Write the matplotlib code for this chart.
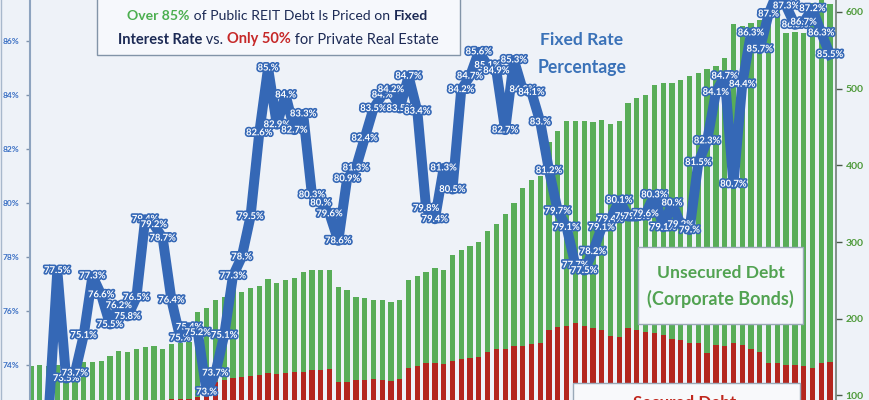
import matplotlib
matplotlib.use("Agg")
import matplotlib.pyplot as plt
import matplotlib.patheffects as pe
from matplotlib.patches import Rectangle
from matplotlib.lines import Line2D
from matplotlib.ticker import FuncFormatter
from matplotlib import font_manager
import numpy as np

# fixed-rate share of public REIT debt (%), one point per quarter
fixed_pct = [71.4, 71.7, 72.1, 77.5, 73.5, 73.7, 75.1, 77.3, 76.6, 75.5,
             76.2, 75.8, 76.5, 79.4, 79.2, 78.7, 76.4, 75.0, 75.4, 75.2,
             73.0, 73.7, 75.1, 77.3, 78.0, 79.5, 82.6, 85.0, 82.9, 84.0,
             82.7, 83.3, 80.3, 80.0, 79.6, 78.6, 80.9, 81.3, 82.4, 83.5,
             84.0, 84.2, 83.5, 84.7, 83.4, 79.8, 79.4, 81.3, 80.5, 84.2,
             84.7, 85.6, 85.1, 84.9, 82.7, 85.3, 84.2, 84.1, 83.0, 81.2,
             79.7, 79.1, 77.7, 77.5, 78.2, 79.1, 79.4, 80.1, 79.5, 79.5,
             79.6, 80.3, 79.1, 80.0, 79.2, 79.0, 81.5, 82.3, 84.1, 84.7,
             80.7, 84.4, 86.3, 85.7, 87.0, 87.8, 87.3, 86.6, 86.7, 87.2,
             86.3, 85.5]

# total debt ($bn) = secured + unsecured
total_debt = [138.5, 139.5, 139, 140, 140.5, 141, 143, 144, 145, 152,
              158, 157, 161, 163, 164, 161, 167, 168, 170, 209,
              214, 224, 228, 240, 235, 240, 243, 252, 247, 250,
              253, 261, 264, 264, 264, 241, 237, 229, 227, 225,
              225, 222, 225, 251, 256, 261, 266, 263, 283, 290,
              295, 300, 315, 324, 337, 351, 370, 381, 386, 431,
              445, 458, 458, 458, 456, 459, 454, 458, 481, 488,
              492, 505, 508, 507, 511, 517, 521, 526, 529, 540,
              584, 582, 586, 590, 600, 620, 573, 574, 572, 612,
              615, 611]

secured_debt = [86, 86, 87, 87, 88, 88, 89, 89, 90, 90,
                91, 91, 92, 92, 93, 93, 95, 96, 96, 98,
                101, 118, 120, 123, 124, 125, 127, 129.5, 128, 129,
                130, 131, 133, 133, 134, 117, 118, 120, 120, 121,
                120, 118.5, 121, 136, 138, 142, 142, 141, 145, 148,
                149, 150, 157, 160, 161, 164, 165, 167, 169, 185,
                189, 191, 194, 191, 188, 185, 177, 176, 188, 186,
                183, 182, 179, 173, 172, 168, 169, 155, 166, 165,
                168, 166, 160, 157, 142, 142, 140, 140, 138.5, 135.5,
                142, 143]

left_ticks = [74, 76, 78, 80, 82, 84, 86]
right_ticks = [100, 200, 300, 400, 500, 600]

W, H = 870, 400
bg = '#eef2f8'
blue = '#3568b6'
green_bar = '#58ad58'
red_bar = '#b3261e'
navy = '#1c2a55'

installed = {f.name for f in font_manager.fontManager.ttflist}
narrow = 'Liberation Sans Narrow' if 'Liberation Sans Narrow' in installed else 'Lato'

quarters = np.arange(len(fixed_pct))
unsecured = np.array(total_debt) - np.array(secured_debt)

fig = plt.figure(figsize=(W / 100, H / 100), dpi=100, facecolor=bg)
ax_b = fig.add_axes([29.5 / W, 0, (836 - 29.5) / W, 1])
ax_b.set_facecolor(bg)
ax_l = ax_b.twinx()

ax_b.bar(quarters, secured_debt, width=0.6, color=red_bar, zorder=2)
ax_b.bar(quarters, unsecured, width=0.6, bottom=secured_debt, color=green_bar, zorder=2)
ax_b.set_xlim(-0.17, 91.68)
ax_b.set_ylim(94.1, 615.6)
ax_b.set_xticks([])
ax_b.yaxis.tick_right()
ax_b.set_yticks(right_ticks)
ax_b.tick_params(axis='y', direction='out', length=4, width=1, color='#4a5a4a',
                 labelcolor='#4e9a3a', labelsize=7.5, pad=3)
for t in ax_b.get_yticklabels():
    t.set_fontweight('bold')
    t.set_family('Lato')

ax_l.plot(quarters, fixed_pct, color=blue, lw=7.2, solid_joinstyle='round', zorder=3)
ax_l.set_ylim(72.704, 87.52)


def pct_label(v):
    s = f"{v:.1f}"
    if s.endswith(".0"):
        s = s[:-1]
    return s + "%"


ymin = ax_l.get_ylim()[0]
for q, v in zip(quarters, fixed_pct):
    if v < ymin:
        continue  # point sits below the visible window
    ax_l.text(q, v, pct_label(v), ha='center', va='center', fontsize=6.8,
              color='white', fontweight='bold', family='Lato', zorder=4,
              path_effects=[pe.withStroke(linewidth=2.4, foreground=blue)])

ax_l.yaxis.tick_left()
ax_l.set_yticks(left_ticks)
ax_l.yaxis.set_major_formatter(FuncFormatter(lambda v, p: f"{v:.0f}%"))
ax_l.tick_params(axis='y', direction='out', length=3, width=1, color='#7f93ad',
                 labelcolor='#3a6fc4', labelsize=6, pad=4)
for t in ax_l.get_yticklabels():
    t.set_fontweight('bold')
    t.set_family('Lato')

for a in (ax_b, ax_l):
    for s in ('top', 'bottom', 'left', 'right'):
        a.spines[s].set_visible(False)
ax_l.spines['left'].set_visible(True)
ax_l.spines['left'].set_color('#8da3bf')
ax_l.spines['left'].set_linewidth(1.5)
ax_b.spines['right'].set_visible(True)
ax_b.spines['right'].set_color('#6f7f75')
ax_b.spines['right'].set_linewidth(1.2)

# boxes
fig.add_artist(Line2D([1.5 / W, 1.5 / W], [0, 1], color='#a8b8cc', lw=1))
fig.add_artist(Rectangle((97 / W, 1 - 55 / H), 363 / W, 0.2, transform=fig.transFigure,
                         facecolor='#f6f8fc', edgecolor='#8294a8', lw=1))
fig.add_artist(Rectangle((638 / W, 1 - 324 / H), 165 / W, 77 / H, transform=fig.transFigure,
                         facecolor='#f4f7fb', edgecolor='#9aa9b8', lw=1))
fig.add_artist(Rectangle((573 / W, -0.05), 227 / W, 0.05 + 1 - 383 / H, transform=fig.transFigure,
                         facecolor='#f8f9fb', edgecolor='#9aa9b8', lw=1))

renderer = fig.canvas.get_renderer()


def fit_line(runs, x_left, x_right, baseline):
    texts = [fig.text(0, 0, s, color=c, fontweight=w, fontsize=10, family=narrow,
                      ha='left', va='baseline') for s, c, w in runs]
    widths = [t.get_window_extent(renderer).width for t in texts]
    scale = (x_right - x_left) / sum(widths)
    x = x_left
    for t, w in zip(texts, widths):
        t.set_fontsize(10 * scale)
        t.set_position((x / W, 1 - baseline / H))
        x += w * scale


fit_line([("Over 85%", '#4caf50', 'bold'),
          (" of Public REIT Debt Is Priced on ", navy, 'normal'),
          ("Fixed", navy, 'bold')], 127, 428, 20)
fit_line([("Interest Rate", navy, 'bold'), (" vs. ", navy, 'normal'),
          ("Only 50%", '#c62828', 'bold'),
          (" for Private Real Estate", navy, 'normal')], 118, 437, 43.5)
fit_line([("Fixed Rate", '#3a72b8', 'bold')], 540, 623, 45)
fit_line([("Percentage", '#3a72b8', 'bold')], 538, 627, 72.5)
fit_line([("Unsecured Debt", '#52a352', 'bold')], 657, 785, 278)
fit_line([("(Corporate Bonds)", '#52a352', 'bold')], 647, 794, 305)
fit_line([("Secured Debt", '#c0281e', 'bold')], 633, 737, 408)

fig.savefig('out.png', dpi=100, facecolor=bg)
